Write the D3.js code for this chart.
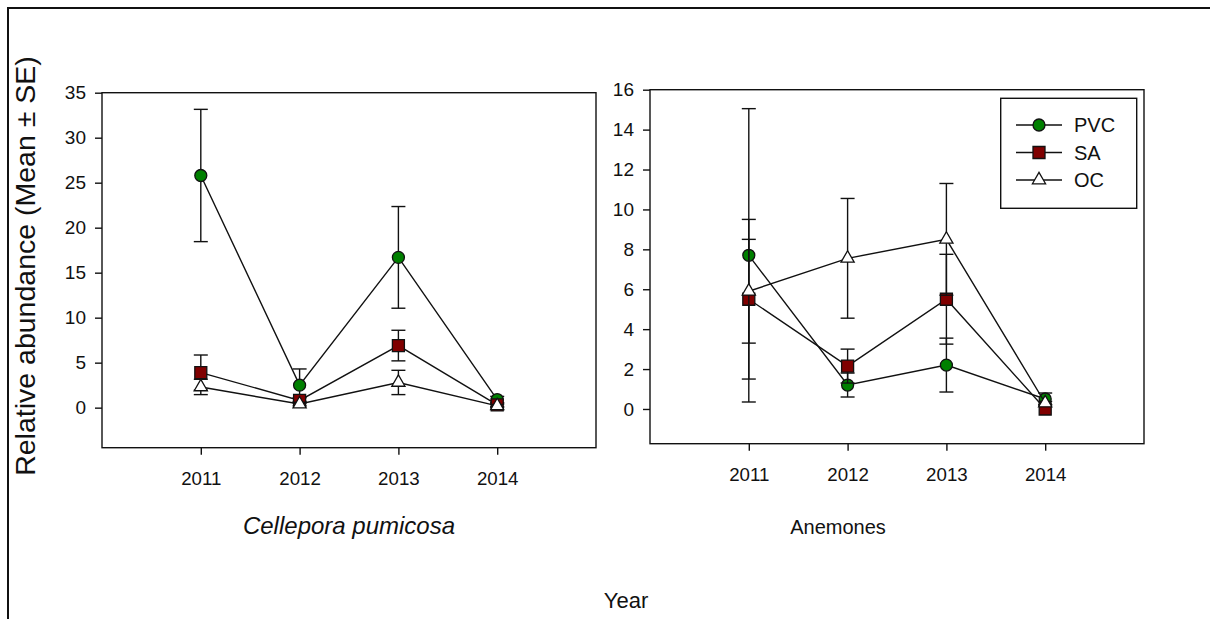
<!DOCTYPE html>
<html><head><meta charset="utf-8">
<script src="https://cdn.jsdelivr.net/npm/d3@7"></script>
<style>body{margin:0;background:#fff}svg{display:block}text{font-family:"Liberation Sans",Arial,sans-serif;fill:#111}</style>
</head><body>
<svg id="c" width="1210" height="619"></svg>
<script>
const years = [2011, 2012, 2013, 2014];
const seriesNames = ["PVC", "SA", "OC"];
// Cellepora pumicosa
const cellPVC = [25.8, 2.5, 16.7, 0.9];
const cellPVCse = [7.35, 1.8, 5.65, 0.35];
const cellSA = [3.9, 0.8, 6.9, 0.3];
const cellSAse = [1.95, 0.3, 1.7, 0.2];
const cellOC = [2.3, 0.4, 2.8, 0.2];
const cellOCse = [0.85, 0.2, 1.35, 0.15];
// Anemones
const anemPVC = [7.7, 1.2, 2.2, 0.5];
const anemPVCse = [7.35, 0.6, 1.35, 0.3];
const anemSA = [5.5, 2.15, 5.5, 0.0];
const anemSAse = [4.0, 0.85, 2.25, 0.0];
const anemOC = [5.9, 7.55, 8.5, 0.3];
const anemOCse = [2.6, 3.0, 2.8, 0.08];
const cellTicks = [0, 5, 10, 15, 20, 25, 30, 35];
const anemTicks = [0, 2, 4, 6, 8, 10, 12, 14, 16];

const svg = d3.select("#c");
svg.append("rect").attr("x", 8).attr("y", 8).attr("width", 1240).attr("height", 640)
  .attr("fill", "none").attr("stroke", "#111").attr("stroke-width", 2);

const styles = {
  PVC: {sym: d3.symbolCircle, size: 113, fill: "#008000"},
  SA: {sym: d3.symbolSquare, size: 144, fill: "#800000"},
  OC: {sym: d3.symbolTriangle, size: 75, fill: "#ffffff"}
};

function panel(cfg) {
  const x = d3.scaleLinear().domain([2010, 2015]).range([cfg.x0, cfg.x1]);
  const y = d3.scaleLinear().domain(cfg.ydom).range([cfg.y1, cfg.y0]);
  const g = svg.append("g");
  g.append("rect").attr("x", cfg.x0).attr("y", cfg.y0).attr("width", cfg.x1 - cfg.x0)
    .attr("height", cfg.y1 - cfg.y0).attr("fill", "none").attr("stroke", "#111").attr("stroke-width", 1.4);
  const ya = g.append("g").attr("transform", `translate(${cfg.x0},0)`)
    .call(d3.axisLeft(y).tickValues(cfg.ticks).tickSize(7).tickSizeOuter(0).tickPadding(9));
  ya.select(".domain").remove();
  ya.selectAll("line").attr("stroke", "#111").attr("stroke-width", 1.4);
  ya.selectAll("text").attr("font-size", 19).style("font-family", '"Liberation Sans",Arial,sans-serif').attr("fill", "#111");
  const xa = g.append("g").attr("transform", `translate(0,${cfg.y1})`)
    .call(d3.axisBottom(x).tickValues(years).tickFormat(d3.format("d")).tickSize(7).tickSizeOuter(0).tickPadding(17.5));
  xa.select(".domain").remove();
  xa.selectAll("line").attr("stroke", "#111").attr("stroke-width", 1.4);
  xa.selectAll("text").attr("font-size", 18.7).style("font-family", '"Liberation Sans",Arial,sans-serif').attr("fill", "#111");

  cfg.series.forEach(s => {
    const pts = years.map((yr, i) => ({yr, v: s.vals[i], se: s.se[i]}));
    g.append("path").datum(pts)
      .attr("d", d3.line().x(d => x(d.yr)).y(d => y(d.v)))
      .attr("fill", "none").attr("stroke", "#111").attr("stroke-width", 1.4);
    const eb = g.append("g").attr("stroke", "#111").attr("stroke-width", 1.4);
    pts.forEach(d => {
      if (d.se <= 0) return;
      eb.append("line").attr("x1", x(d.yr)).attr("x2", x(d.yr)).attr("y1", y(d.v - d.se)).attr("y2", y(d.v + d.se));
      [d.v - d.se, d.v + d.se].forEach(e => {
        eb.append("line").attr("x1", x(d.yr) - 7).attr("x2", x(d.yr) + 7).attr("y1", y(e)).attr("y2", y(e));
      });
    });
    const st = styles[s.name];
    g.selectAll(null).data(pts).enter().append("path")
      .attr("d", d3.symbol().type(st.sym).size(st.size))
      .attr("transform", d => `translate(${x(d.yr)},${y(d.v)})`)
      .attr("fill", st.fill).attr("stroke", "#111").attr("stroke-width", 1.3);
  });
  g.append("text").attr("x", cfg.tx).attr("y", 534).attr("text-anchor", "middle")
    .attr("font-size", cfg.tsize).attr("font-style", cfg.italic ? "italic" : "normal").text(cfg.title);
}

panel({x0: 102, x1: 596, y0: 92.7, y1: 447.7, ydom: [-4.45, 35], ticks: cellTicks,
  title: "Cellepora pumicosa", italic: true, tsize: 24, tx: 349,
  series: [{name: "PVC", vals: cellPVC, se: cellPVCse}, {name: "SA", vals: cellSA, se: cellSAse}, {name: "OC", vals: cellOC, se: cellOCse}]});
panel({x0: 650, x1: 1144, y0: 89.7, y1: 443.7, ydom: [-1.74, 16], ticks: anemTicks,
  title: "Anemones", italic: false, tsize: 20, tx: 838,
  series: [{name: "PVC", vals: anemPVC, se: anemPVCse}, {name: "SA", vals: anemSA, se: anemSAse}, {name: "OC", vals: anemOC, se: anemOCse}]});

// Legend
const lg = svg.append("g");
lg.append("rect").attr("x", 1000.7).attr("y", 98.3).attr("width", 136).attr("height", 110)
  .attr("fill", "#fff").attr("stroke", "#111").attr("stroke-width", 1.4);
seriesNames.forEach((n, i) => {
  const yy = 125 + i * 27.5;
  lg.append("line").attr("x1", 1016).attr("x2", 1062).attr("y1", yy).attr("y2", yy).attr("stroke", "#111").attr("stroke-width", 1.4);
  const st = styles[n];
  lg.append("path").attr("d", d3.symbol().type(st.sym).size(st.size)).attr("transform", `translate(1039,${yy})`)
    .attr("fill", st.fill).attr("stroke", "#111").attr("stroke-width", 1.3);
  lg.append("text").attr("x", 1074).attr("y", yy).attr("dy", "0.36em").attr("font-size", 20).text(n);
});

// Axis titles
svg.append("text").attr("transform", "translate(35,266) rotate(-90)").attr("text-anchor", "middle")
  .attr("font-size", 28.5).text("Relative abundance (Mean ± SE)");
svg.append("text").attr("x", 626).attr("y", 608).attr("text-anchor", "middle").attr("font-size", 22).text("Year");
</script>
</body></html>
